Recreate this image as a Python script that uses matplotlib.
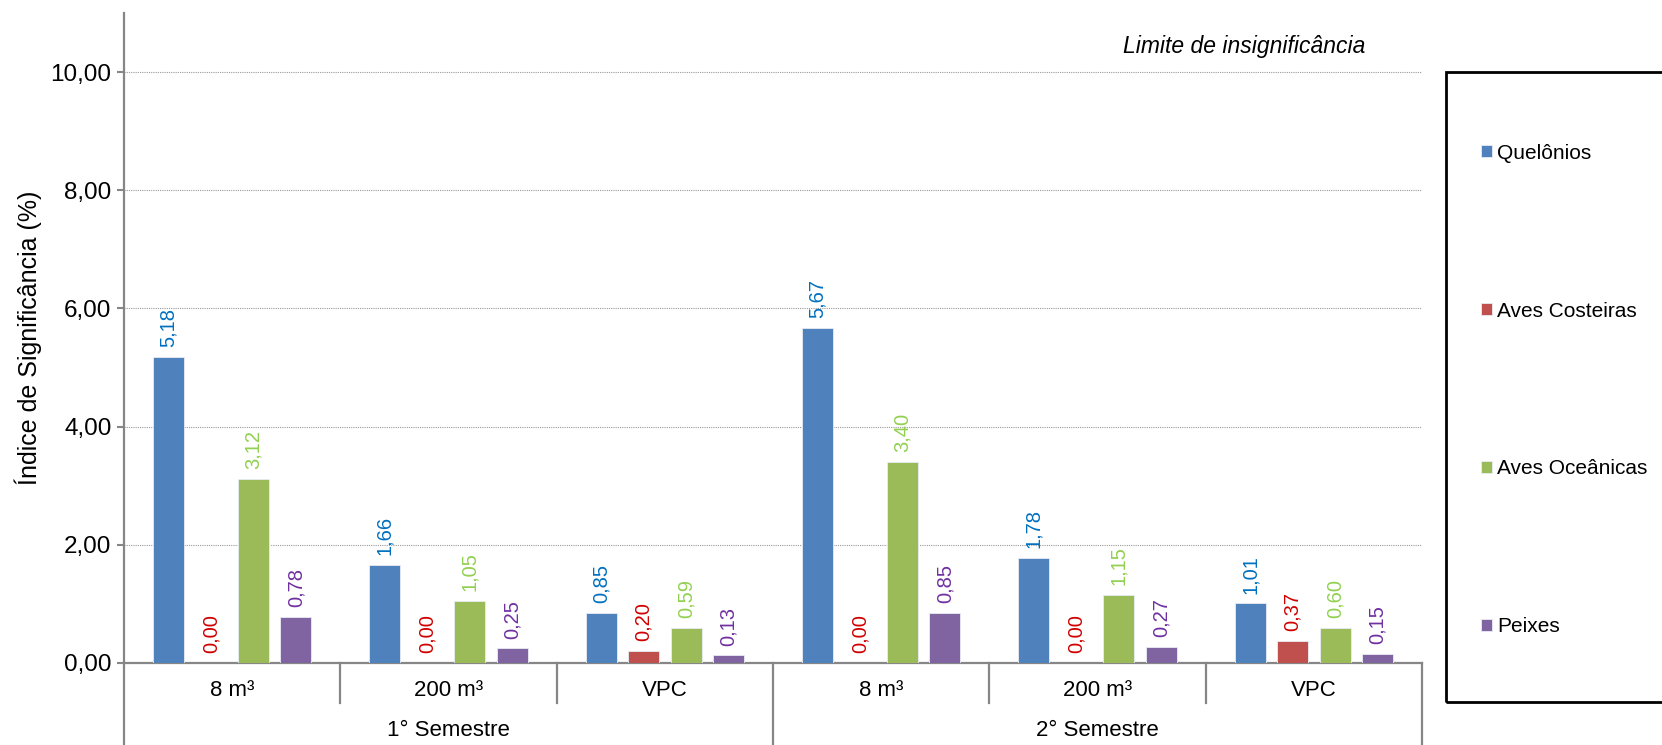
import matplotlib
matplotlib.use("Agg")
import matplotlib.pyplot as plt
import matplotlib.transforms as mtransforms
from matplotlib.patches import Rectangle
import numpy as np

plt.rcParams['font.family'] = ['Liberation Sans', 'DejaVu Sans']

# --- data ---
groups = ["8 m³", "200 m³", "VPC", "8 m³", "200 m³", "VPC"]
semesters = ["1° Semestre", "2° Semestre"]
series_names = ["Quelônios", "Aves Costeiras", "Aves Oceânicas", "Peixes"]
quelonios = [5.18, 1.66, 0.85, 5.67, 1.78, 1.01]
aves_costeiras = [0.00, 0.00, 0.20, 0.00, 0.00, 0.37]
aves_oceanicas = [3.12, 1.05, 0.59, 3.40, 1.15, 0.60]
peixes = [0.78, 0.25, 0.13, 0.85, 0.27, 0.15]
yticks = [0, 2, 4, 6, 8, 10]

series_values = [quelonios, aves_costeiras, aves_oceanicas, peixes]
bar_colors = ["#4F81BD", "#C0504D", "#9BBB59", "#8064A2"]
label_colors = ["#0070C0", "#D00000", "#92D050", "#7030A0"]

W, H = 1662, 745
fig = plt.figure(figsize=(W / 100, H / 100), dpi=100)
ax_left, ax_right, ax_top, ax_bottom = 124, 1422, 13, 663
ax = fig.add_axes([ax_left / W, 1 - ax_bottom / H,
                   (ax_right - ax_left) / W, (ax_bottom - ax_top) / H])

x = np.arange(len(groups))
pitch = 0.1965
width = 0.143
offsets = (np.arange(4) - 1.5) * pitch

containers = []
for vals, off, bc, lc in zip(series_values, offsets, bar_colors, label_colors):
    bars = ax.bar(x + off, vals, width=width, color=bc, edgecolor="#E8ECF4",
                  linewidth=0.6, zorder=3)
    containers.append(bars)
    for xi, v in zip(x + off, vals):
        ax.annotate(f"{v:.2f}".replace(".", ","), xy=(xi, v), xytext=(0, 7),
                    textcoords="offset points", rotation=90, ha="center",
                    va="bottom", fontsize=14.5, color=lc, zorder=4)

ax.set_xlim(-0.5, len(groups) - 0.5)
ax.set_ylim(0, 11)
ax.set_yticks(yticks)
ax.set_yticklabels([f"{t:.2f}".replace(".", ",") for t in yticks], fontsize=17.5)
ax.tick_params(axis="y", length=5, width=1.5, color="#868686", pad=4)
ax.tick_params(axis="x", length=0, labelbottom=False)
ax.yaxis.grid(True, color="#9A9A9A", linestyle=(0, (1, 1)), linewidth=0.8, zorder=0)
ax.set_axisbelow(True)

for s in ["top", "right"]:
    ax.spines[s].set_visible(False)
for s in ["left", "bottom"]:
    ax.spines[s].set_color("#868686")
    ax.spines[s].set_linewidth(1.6)

ax.set_ylabel("Índice de Significância (%)", fontsize=18, labelpad=6)

# two-level category axis
trans = mtransforms.blended_transform_factory(ax.transData, ax.transAxes)
ax_h = ax_bottom - ax_top
y_cat = -(691 - ax_bottom) / ax_h
y_sem = -(731 - ax_bottom) / ax_h
y_sep_minor = -(703 - ax_bottom) / ax_h
y_sep_major = -(H - ax_bottom + 2) / ax_h

for xi, g in zip(x, groups):
    ax.text(xi, y_cat, g, transform=trans, ha="center", va="center", fontsize=16)
for k, sname in enumerate(semesters):
    ax.text(3 * k + 1, y_sem, sname, transform=trans, ha="center", va="center",
            fontsize=16)

for b in [0.5, 1.5, 3.5, 4.5]:
    ax.plot([b, b], [0, y_sep_minor], transform=trans, color="#868686",
            linewidth=1.6, clip_on=False)
for b in [-0.5, 2.5, 5.5]:
    ax.plot([b, b], [0, y_sep_major], transform=trans, color="#868686",
            linewidth=1.6, clip_on=False)

fig.text(1365 / W, 1 - 47 / H, "Limite de insignificância", ha="right",
         va="center", fontsize=16.5, style="italic")

# legend box
fig.patches.append(Rectangle((1446 / W, 1 - 702 / H), (W - 1446 + 10) / W,
                             (702 - 72) / H, transform=fig.transFigure,
                             fill=False, edgecolor="black", linewidth=2))
fig.legend(containers, series_names, loc="center left",
           bbox_to_anchor=(1481 / W, 1 - 390 / H), frameon=False,
           fontsize=15, handlelength=0.53, handleheight=0.53,
           handletextpad=0.25, labelspacing=6.67, borderpad=0,
           borderaxespad=0)

fig.savefig("out.png", dpi=100)
